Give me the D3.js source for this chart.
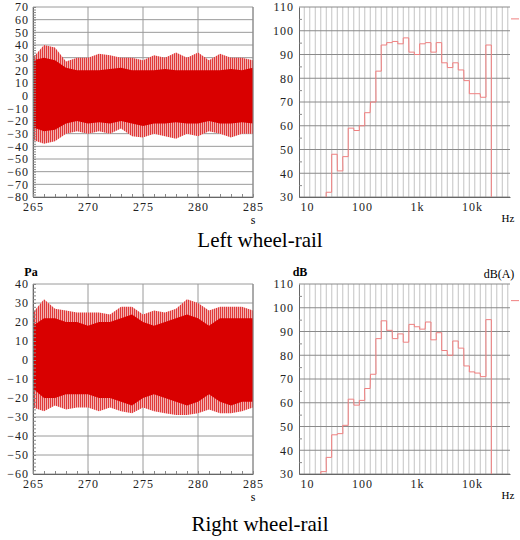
<!DOCTYPE html>
<html lang="en">
<head>
<meta charset="UTF-8">
<script src="https://cdn.jsdelivr.net/npm/d3@7"></script>
<style>
  body { margin: 0; background: #fff; }
  text { font-family: "Liberation Serif", serif; }
  .tick text { font-size: 12px; letter-spacing: 1px; fill: #222; }
</style>
</head>
<body>
<svg id="chart" width="520" height="540"></svg>
<script>
// ---------- data ----------
const seconds = d3.range(265, 286);
// left wheel-rail pressure envelope (Pa), one value per second
const leftCoreHi = [28, 30, 28, 22, 20, 20, 20, 21, 22, 20, 20, 20, 21, 20, 20, 20, 20, 20, 21, 20, 22];
const leftCoreLo = [-25, -28, -27, -22, -20, -22, -21, -22, -20, -22, -24, -22, -22, -21, -22, -22, -20, -22, -22, -21, -22];
const leftPeakHi = [30, 40, 38, 27, 30, 30, 33, 32, 30, 30, 28, 32, 30, 34, 30, 34, 28, 33, 30, 30, 28];
const leftPeakLo = [-35, -38, -36, -30, -28, -30, -28, -30, -26, -32, -33, -30, -32, -34, -30, -32, -28, -30, -33, -30, -30];
// right wheel-rail
const rightCoreHi = [18, 22, 22, 20, 20, 18, 20, 20, 22, 24, 20, 18, 20, 22, 24, 22, 18, 22, 22, 22, 22];
const rightCoreLo = [-15, -20, -20, -18, -18, -18, -20, -20, -22, -24, -20, -18, -20, -22, -24, -22, -18, -22, -24, -22, -22];
const rightPeakHi = [25, 32, 27, 26, 25, 25, 25, 24, 28, 28, 24, 26, 25, 27, 32, 30, 26, 28, 28, 28, 26];
const rightPeakLo = [-25, -27, -24, -26, -25, -25, -27, -25, -27, -28, -25, -27, -28, -29, -29, -28, -26, -28, -28, -27, -25];

// 1/3-octave spectra (dB)
const leftBands = [25, 31.5, 40, 50, 63, 80, 100, 125, 160, 200, 250, 315, 400, 500, 630, 800, 1000, 1250, 1600, 2000, 2500, 3150, 4000, 5000, 6300, 8000, 10000, 12500, 16000, 20000];
const leftLevels = [32, 48, 41, 47, 59, 58, 60, 65.5, 70, 83, 94, 95, 95.5, 94.5, 97, 91, 90, 94.5, 95, 91, 95, 86.5, 84.5, 86.5, 83.5, 79, 73.5, 73.5, 72, 94];
const leftTotal = 105;
const rightBands = [20, 25, 31.5, 40, 50, 63, 80, 100, 125, 160, 200, 250, 315, 400, 500, 630, 800, 1000, 1250, 1600, 2000, 2500, 3150, 4000, 5000, 6300, 8000, 10000, 12500, 16000, 20000];
const rightLevels = [31, 37, 46.5, 47, 50.5, 61.5, 59, 61, 66, 72, 87, 94.5, 90.5, 87, 89, 85.5, 93, 92, 91, 94, 86.5, 89.5, 82, 80, 86, 83, 75.5, 73, 72.5, 71, 95];
const rightTotal = 103;

const timeTicks = [265, 270, 275, 280, 285];
const freqTicks = [10, 100, 1000, 10000];
const freqLabels = ["10", "100", "1k", "10k"];

// ---------- drawing ----------
const svg = d3.select("#chart");
const defs = svg.append("defs");
const pat = defs.append("pattern").attr("id", "spikes").attr("patternUnits", "userSpaceOnUse")
  .attr("width", 2).attr("height", 6);
pat.append("rect").attr("width", 2).attr("height", 6).attr("fill", "#f2b0b0");
pat.append("rect").attr("width", 1).attr("height", 6).attr("fill", "#e03a3a");

const H = 190;

function timePanel(top, yDomain, coreHi, coreLo, peakHi, peakLo, unit) {
  const x = d3.scaleLinear().domain([265, 285]).range([33, 253]);
  const y = d3.scaleLinear().domain(yDomain).range([top + H, top]);
  const g = svg.append("g");
  const yt = d3.range(yDomain[0], yDomain[1] + 1, 10);
  g.selectAll(".hg").data(yt).join("line")
    .attr("x1", 33).attr("x2", 253).attr("y1", d => y(d)).attr("y2", d => y(d))
    .attr("stroke", "#9a9a9a");
  g.selectAll(".vg").data(timeTicks).join("line")
    .attr("x1", d => x(d)).attr("x2", d => x(d)).attr("y1", top).attr("y2", top + H)
    .attr("stroke", "#9a9a9a");

  const area = (hi, lo) => d3.area().x((d, i) => x(seconds[i])).y0((d, i) => y(lo[i])).y1((d, i) => y(hi[i]));
  g.append("path").datum(seconds).attr("d", area(peakHi, peakLo)).attr("fill", "url(#spikes)");
  g.append("path").datum(seconds).attr("d", area(coreHi, coreLo)).attr("fill", "#d90000");

  g.append("g").attr("transform", `translate(33,0)`)
    .call(d3.axisLeft(y).tickValues(yt).tickSize(0).tickPadding(4))
    .call(a => a.select(".domain").attr("stroke", "#666"));
  g.append("g").attr("transform", `translate(33,0)`)
    .call(d3.axisRight(y).ticks(yt.length * 5).tickSize(3).tickFormat(""))
    .call(a => a.select(".domain").remove()).selectAll("line").attr("stroke", "#888");
  g.append("g").attr("transform", `translate(0,${top + H})`)
    .call(d3.axisBottom(x).tickValues(timeTicks).tickSize(0).tickPadding(5))
    .call(a => a.select(".domain").attr("stroke", "#666"));
  g.append("g").attr("transform", `translate(0,${top + H})`)
    .call(d3.axisTop(x).ticks(20).tickSize(3).tickFormat(""))
    .call(a => a.select(".domain").remove()).selectAll("line").attr("stroke", "#888");
  g.append("line").attr("x1", 253).attr("x2", 253).attr("y1", top).attr("y2", top + H).attr("stroke", "#888");
  g.append("text").attr("x", 253).attr("y", top + H + 27).attr("text-anchor", "middle")
    .attr("font-size", 12).text("s");
  if (unit) g.append("text").attr("x", 31).attr("y", top - 8).attr("text-anchor", "middle")
    .attr("font-size", 12).attr("font-weight", "bold").text(unit);
}

function specPanel(top, bands, levels, total, withUnits) {
  const x = d3.scaleLog().domain([7.15, 49000]).range([299, 510]);
  const y = d3.scaleLinear().domain([30, 110]).range([top + H, top]);
  const g = svg.append("g");
  const k = Math.pow(2, 1 / 6);
  // band edge grid
  const edges = d3.range(-10, 40).map(i => 10 * Math.pow(10, i / 10) / Math.pow(10, 0.05))
    .filter(f => x(f) > 299 && x(f) < 510);
  g.selectAll(".bg").data(edges).join("line")
    .attr("x1", d => x(d)).attr("x2", d => x(d)).attr("y1", top).attr("y2", top + H)
    .attr("stroke", "#c4c4c4");
  const yt = d3.range(30, 111, 10);
  g.selectAll(".hg").data(yt).join("line")
    .attr("x1", 299).attr("x2", 510).attr("y1", d => y(d)).attr("y2", d => y(d))
    .attr("stroke", "#8a8a8a");

  const pts = [[x(bands[0] / k), y(30)]];
  bands.forEach((f, i) => { pts.push([x(f / k), y(levels[i])]); pts.push([x(f * k), y(levels[i])]); });
  pts.push([x(bands[bands.length - 1] * k), y(30)]);
  g.append("path").attr("d", d3.line()(pts)).attr("fill", "none").attr("stroke", "#f08080").attr("stroke-width", 1);
  g.append("line").attr("x1", 511).attr("x2", 519).attr("y1", y(total)).attr("y2", y(total))
    .attr("stroke", "#f08080");

  g.append("g").attr("transform", `translate(299,0)`)
    .call(d3.axisLeft(y).tickValues(yt).tickSize(0).tickPadding(5))
    .call(a => a.select(".domain").attr("stroke", "#666"));
  g.append("g").attr("transform", `translate(299,0)`)
    .call(d3.axisRight(y).tickValues(d3.range(35, 110, 10)).tickSize(3).tickFormat(""))
    .call(a => a.select(".domain").remove()).selectAll("line").attr("stroke", "#888");
  g.append("g").attr("transform", `translate(0,${top + H})`)
    .call(d3.axisBottom(x).tickValues(freqTicks).tickSize(0).tickPadding(5).tickFormat((d, i) => freqLabels[i]))
    .call(a => a.select(".domain").attr("stroke", "#666"));
  g.append("text").attr("x", 508).attr("y", top + H + 25).attr("text-anchor", "middle")
    .attr("font-size", 11).text("Hz");
  if (withUnits) {
    g.append("text").attr("x", 300).attr("y", top - 8).attr("text-anchor", "middle")
      .attr("font-size", 12).attr("font-weight", "bold").text("dB");
    g.append("text").attr("x", 499).attr("y", top - 6).attr("text-anchor", "middle")
      .attr("font-size", 12).text("dB(A)");
  }
}

timePanel(7, [-80, 70], leftCoreHi, leftCoreLo, leftPeakHi, leftPeakLo, null);
specPanel(7, leftBands, leftLevels, leftTotal, false);
timePanel(284, [-60, 40], rightCoreHi, rightCoreLo, rightPeakHi, rightPeakLo, "Pa");
specPanel(284, rightBands, rightLevels, rightTotal, true);

svg.append("text").attr("x", 260).attr("y", 247).attr("text-anchor", "middle").attr("font-size", 21).text("Left wheel-rail");
svg.append("text").attr("x", 260).attr("y", 531).attr("text-anchor", "middle").attr("font-size", 21).text("Right wheel-rail");
</script>
</body>
</html>
